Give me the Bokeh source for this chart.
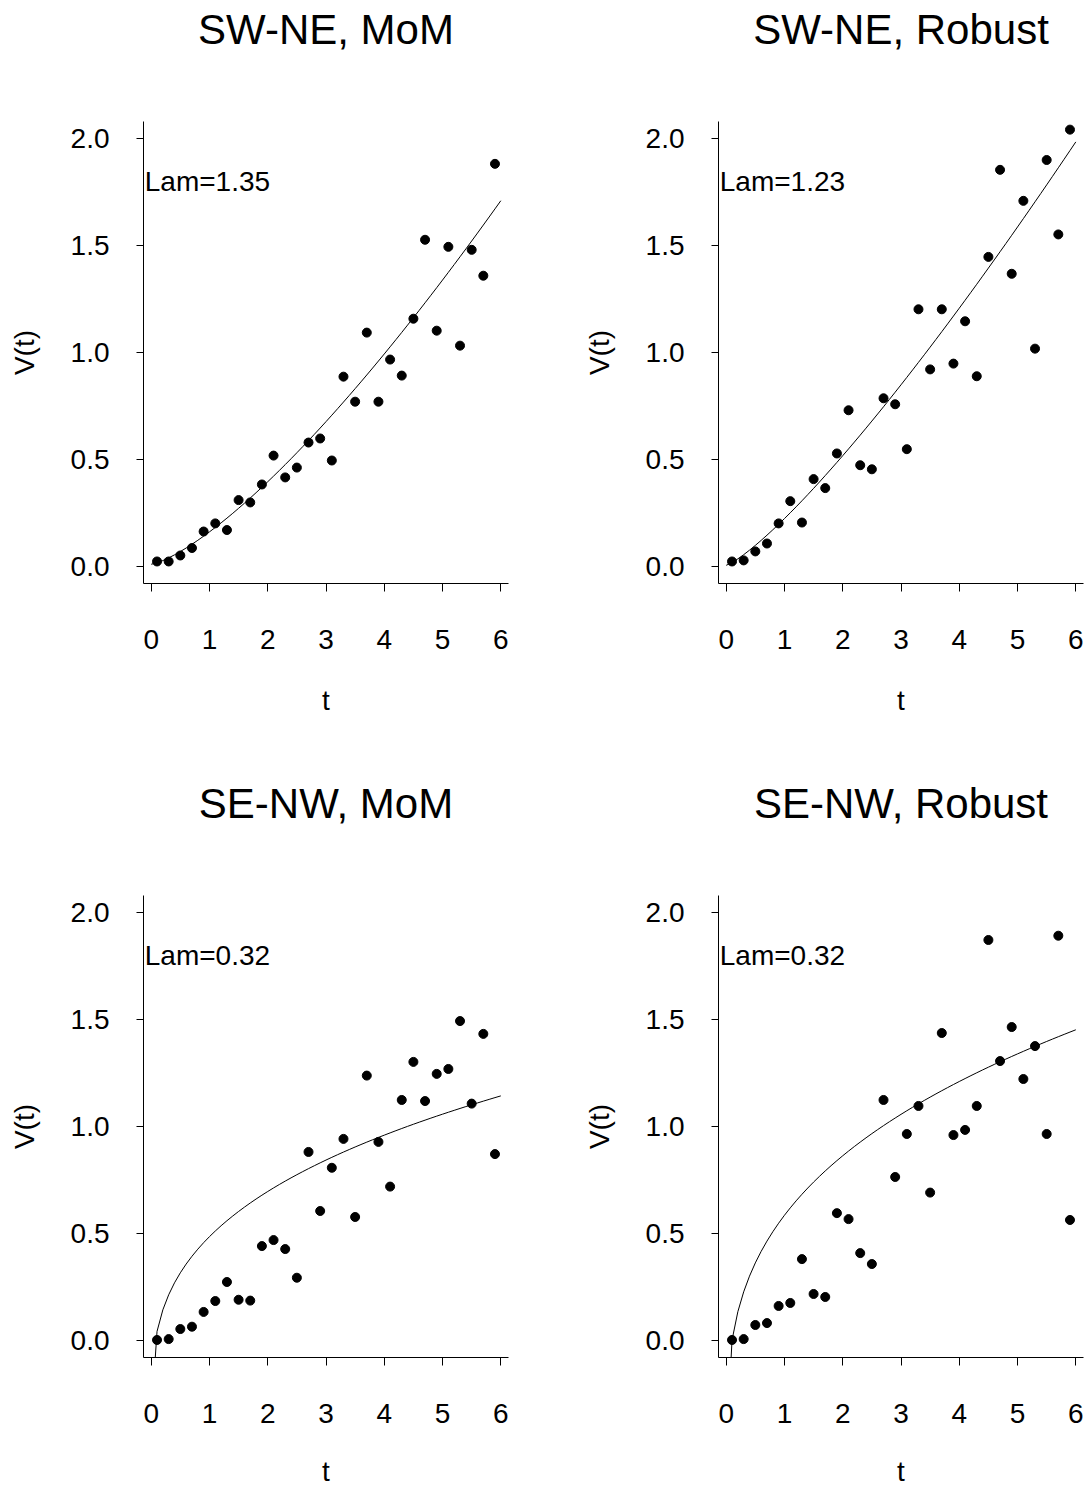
import numpy as np
from bokeh.plotting import figure
from bokeh.layouts import gridplot
from bokeh.models import Range1d, FixedTicker, PrintfTickFormatter, Label, LinearAxis
from bokeh.embed import file_html
from bokeh.resources import INLINE

FONT = "Liberation Sans"

# lag distances
t = [0.1, 0.3, 0.5, 0.7, 0.9, 1.1, 1.3, 1.5, 1.7, 1.9,
     2.1, 2.3, 2.5, 2.7, 2.9, 3.1, 3.3, 3.5, 3.7, 3.9,
     4.1, 4.3, 4.5, 4.7, 4.9, 5.1, 5.3, 5.5, 5.7, 5.9]

# empirical variogram values V(t)
v_swne_mom = [0.023, 0.023, 0.051, 0.086, 0.163, 0.201, 0.170, 0.310, 0.299, 0.383,
              0.518, 0.416, 0.462, 0.579, 0.598, 0.495, 0.887, 0.770, 1.093, 0.770,
              0.967, 0.892, 1.158, 1.527, 1.102, 1.494, 1.032, 1.480, 1.359, 1.882]
v_swne_rob = [0.023, 0.028, 0.070, 0.107, 0.201, 0.305, 0.205, 0.408, 0.366, 0.528,
              0.730, 0.473, 0.454, 0.786, 0.758, 0.548, 1.202, 0.921, 1.202, 0.948,
              1.146, 0.889, 1.447, 1.854, 1.368, 1.709, 1.018, 1.900, 1.552, 2.042]
v_senw_mom = [0.002, 0.006, 0.053, 0.064, 0.133, 0.184, 0.273, 0.190, 0.186, 0.441,
              0.469, 0.427, 0.293, 0.881, 0.605, 0.807, 0.942, 0.577, 1.238, 0.928,
              0.719, 1.124, 1.302, 1.119, 1.246, 1.269, 1.493, 1.107, 1.433, 0.871]
v_senw_rob = [0.002, 0.006, 0.072, 0.081, 0.161, 0.175, 0.380, 0.217, 0.203, 0.595,
              0.567, 0.408, 0.357, 1.124, 0.764, 0.965, 1.096, 0.691, 1.437, 0.960,
              0.984, 1.096, 1.872, 1.306, 1.465, 1.222, 1.376, 0.965, 1.892, 0.563]

titles = ["SW-NE, MoM", "SW-NE, Robust", "SE-NW, MoM", "SE-NW, Robust"]
series = [v_swne_mom, v_swne_rob, v_senw_mom, v_senw_rob]

# fitted power model: V(t) = a + b * t^Lam
lams = [1.35, 1.23, 0.32, 0.32]
fit_a = [0.01, 0.005, -0.365, -0.535]
fit_b = [0.1513, 0.2185, 0.85, 1.12]
t_curve = np.linspace(0.0, 6.0, 61)

x_ticks = [0, 1, 2, 3, 4, 5, 6]
y_ticks = [0.0, 0.5, 1.0, 1.5, 2.0]


def make_panel(i, width, height, right, bottom, xlabel_standoff):
    p = figure(width=width, height=height, output_backend="svg", toolbar_location=None,
               x_range=Range1d(-0.132, 6.132), y_range=Range1d(-0.08, 2.08),
               min_border_left=143, min_border_right=right,
               min_border_top=121, min_border_bottom=bottom,
               title=titles[i])
    p.title.text_font = FONT
    p.title.text_font_size = "42px"
    p.title.text_font_style = "normal"
    p.title.text_color = "black"
    p.title.align = "center"
    p.title.vertical_align = "top"
    p.title.standoff = 0

    p.outline_line_color = None
    p.xgrid.visible = False
    p.ygrid.visible = False
    p.background_fill_color = "white"
    p.border_fill_color = "white"

    xa = p.below[0]
    ya = p.left[0]
    for ax in (xa, ya):
        ax.axis_line_color = "black"
        ax.axis_line_width = 1
        ax.major_tick_line_color = "black"
        ax.major_tick_in = 0
        ax.minor_tick_line_color = None
        ax.major_label_text_font = FONT
        ax.major_label_text_font_size = "28px"
        ax.major_label_text_color = "black"
        ax.axis_label_text_font = FONT
        ax.axis_label_text_font_size = "28px"
        ax.axis_label_text_font_style = "normal"
        ax.axis_label_text_color = "black"

    xa.ticker = FixedTicker(ticks=x_ticks)
    ya.ticker = FixedTicker(ticks=y_ticks)
    ya.formatter = PrintfTickFormatter(format="%.1f")
    xa.major_tick_out = 8
    ya.major_tick_out = 7
    xa.major_label_standoff = 38
    ya.major_label_standoff = 27
    xa.axis_label = "t"
    ya.axis_label = "V(t)"
    xa.axis_label_standoff = xlabel_standoff
    ya.axis_label_standoff = 28

    # invisible spacer panel between the frame and the title
    spacer = LinearAxis(ticker=FixedTicker(ticks=[3]), axis_line_color=None,
                        major_tick_line_color=None, minor_tick_line_color=None,
                        major_tick_in=0, major_tick_out=67, minor_tick_in=0, minor_tick_out=0,
                        major_label_standoff=0, major_label_text_color=None,
                        major_label_text_font_size="1px")
    p.add_layout(spacer, "above")

    curve = fit_a[i] + fit_b[i] * t_curve ** lams[i]
    p.line(t_curve, curve, line_color="black", line_width=1)
    p.scatter(t, series[i], size=9, fill_color="black", line_color="black")

    p.add_layout(Label(x=-0.11, y=1.8, text="Lam=%.2f" % lams[i],
                       text_font=FONT, text_font_size="28px",
                       text_baseline="middle", text_align="left", text_color="black"))
    return p


p1 = make_panel(0, 575, 774, 67, 191, 33)
p2 = make_panel(1, 513, 774, 5, 191, 33)
p3 = make_panel(2, 575, 715, 67, 132, 30)
p4 = make_panel(3, 513, 715, 5, 132, 30)

grid = gridplot([[p1, p2], [p3, p4]], toolbar_location=None)

open("out.html", "w").write(file_html(grid, INLINE))
